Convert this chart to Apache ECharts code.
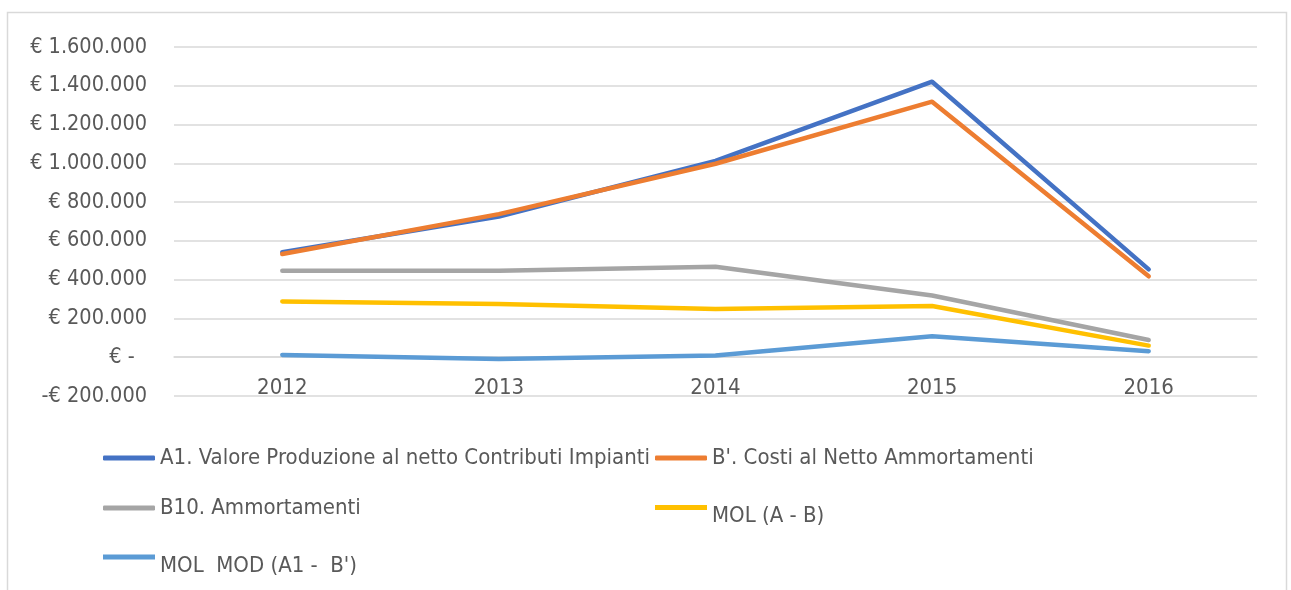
<!DOCTYPE html>
<html>
<head>
<meta charset="utf-8">
<script src="https://cdn.jsdelivr.net/npm/echarts@6/dist/echarts.min.js"></script>
<style>
  html, body { margin: 0; padding: 0; background: #fff; }
  #chart { width: 1291px; height: 590px; }
</style>
</head>
<body>
<div id="chart"></div>
<script>
// anni
const years = ['2012', '2013', '2014', '2015', '2016'];
// valori (euro)
const valoreProduzione = [541000, 726000, 1013000, 1421000, 453000];
const costiNetto = [532000, 738000, 998000, 1318000, 417000];
const ammortamenti = [446000, 446000, 467000, 318000, 89000];
const mol = [288000, 275000, 249000, 264000, 60000];
const molMod = [12000, -9000, 9000, 108000, 31000];

const names = [
  'A1. Valore Produzione al netto Contributi Impianti',
  "B'. Costi al Netto Ammortamenti",
  'B10. Ammortamenti',
  'MOL (A - B)',
  "MOL  MOD (A1 -  B')"
];
const colors = ['#4472C4', '#ED7D31', '#A5A5A5', '#FFC000', '#5B9BD5'];
const seriesData = [valoreProduzione, costiNetto, ammortamenti, mol, molMod];

const font = '"Liberation Sans Narrow", "DejaVu Sans Condensed", sans-serif';
const textColor = '#595959';

function euro(v) {
  if (v === 0) return '€ -  ';
  const s = Math.abs(v).toString().replace(/\B(?=(\d{3})+(?!\d))/g, '.');
  return (v < 0 ? '-€ ' : '€ ') + s;
}

// icona con la barra in alto: il testo resta più in basso (come nell'originale)
const barTop = 'path://M0,0L52,0L52,5L0,5Z M0,23L0.01,23L0,22.99Z';

// posizione legende
const legendPos = [
  { left: 103, top: 447, low: false },
  { left: 655, top: 447, low: false },
  { left: 103, top: 497, low: false },
  { left: 655, top: 505, low: true },
  { left: 103, top: 554.5, low: true }
];

const chart = echarts.init(document.getElementById('chart'));
chart.setOption({
  animation: false,
  backgroundColor: '#fff',
  graphic: [{
    type: 'rect',
    shape: { x: 7.5, y: 12.5, width: 1279, height: 600 },
    style: { fill: 'none', stroke: '#d9d9d9', lineWidth: 1.5 },
    silent: true
  }],
  grid: { left: 174, right: 34, top: 47, bottom: 194 },
  legend: names.map((n, i) => ({
    data: [n],
    left: legendPos[i].left,
    top: legendPos[i].top,
    padding: 0,
    icon: legendPos[i].low ? barTop : 'roundRect',
    itemWidth: 52,
    itemHeight: legendPos[i].low ? 23 : 5,
    itemGap: 0,
    selectedMode: false,
    textStyle: {
      fontFamily: font,
      fontSize: 22,
      color: textColor
    }
  })),
  xAxis: {
    type: 'category',
    data: years,
    boundaryGap: true,
    axisLine: { onZero: true, lineStyle: { color: '#d9d9d9', width: 1.5 } },
    axisTick: { show: false },
    axisLabel: { color: textColor, fontFamily: font, fontSize: 22, margin: -19 }
  },
  yAxis: {
    type: 'value',
    min: -200000,
    max: 1600000,
    interval: 200000,
    axisLine: { show: false },
    axisTick: { show: false },
    splitLine: { lineStyle: { color: '#d9d9d9', width: 1.5 } },
    axisLabel: {
      color: textColor,
      fontFamily: font,
      fontSize: 21.5,
      margin: 27,
      formatter: euro
    }
  },
  series: names.map((n, i) => ({
    name: n,
    type: 'line',
    data: seriesData[i],
    symbol: 'none',
    color: colors[i],
    lineStyle: { width: 4.5, cap: 'round', join: 'round' }
  }))
});
</script>
</body>
</html>
